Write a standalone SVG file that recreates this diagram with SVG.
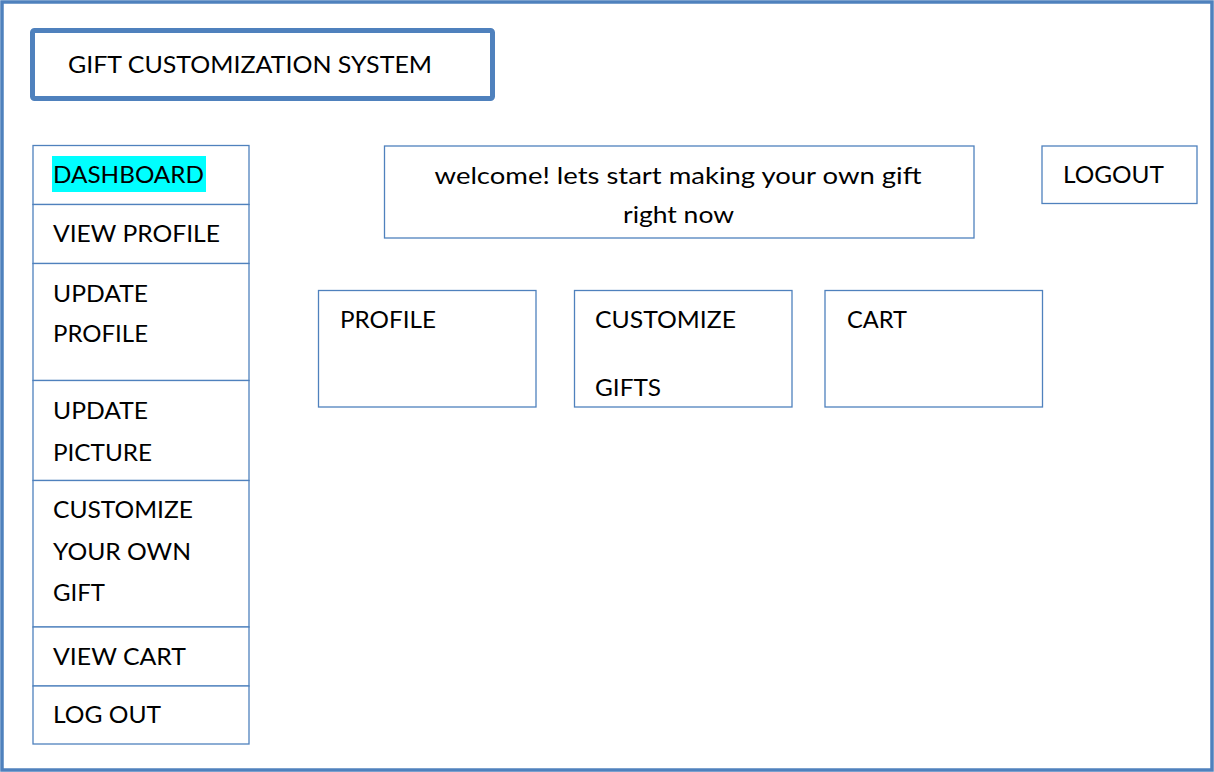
<svg xmlns="http://www.w3.org/2000/svg" width="1214" height="772" viewBox="0 0 1214 772">
<style>
text{font-family:Lato,"Open Sans","Liberation Sans",sans-serif;font-size:24px;fill:#000}
.cell{fill:#fff;stroke:#4f81bd;stroke-width:1.3}
</style>
<rect x="0" y="0" width="1214" height="772" fill="#fff"/>
<rect id="frame" x="2" y="2" width="1210" height="768" fill="none" stroke="#4f81bd" stroke-width="3.5"/>
<g id="title">
<rect x="32.5" y="30.5" width="460" height="68" rx="2" fill="#fff" stroke="#4f81bd" stroke-width="5"/>
<text x="68" y="73" textLength="364" lengthAdjust="spacingAndGlyphs">GIFT CUSTOMIZATION SYSTEM</text>
</g>
<g id="menu-dashboard">
<rect class="cell" x="33" y="145.5" width="216" height="59"/>
<rect x="52" y="156" width="154" height="36" fill="#00ffff"/>
<text x="53" y="183" textLength="151" lengthAdjust="spacingAndGlyphs">DASHBOARD</text>
</g>
<g id="menu-view-profile">
<rect class="cell" x="33" y="204.5" width="216" height="59"/>
<text x="53" y="242" textLength="167" lengthAdjust="spacingAndGlyphs">VIEW PROFILE</text>
</g>
<g id="menu-update-profile">
<rect class="cell" x="33" y="263.5" width="216" height="117"/>
<text x="53" y="302" textLength="95" lengthAdjust="spacingAndGlyphs">UPDATE</text>
<text x="53" y="342" textLength="95" lengthAdjust="spacingAndGlyphs">PROFILE</text>
</g>
<g id="menu-update-picture">
<rect class="cell" x="33" y="380.5" width="216" height="100"/>
<text x="53" y="419" textLength="95" lengthAdjust="spacingAndGlyphs">UPDATE</text>
<text x="53" y="461" textLength="99" lengthAdjust="spacingAndGlyphs">PICTURE</text>
</g>
<g id="menu-customize">
<rect class="cell" x="33" y="480.5" width="216" height="146.5"/>
<text x="53" y="518" textLength="140" lengthAdjust="spacingAndGlyphs">CUSTOMIZE</text>
<text x="53" y="560" textLength="138" lengthAdjust="spacingAndGlyphs">YOUR OWN</text>
<text x="53" y="601" textLength="52" lengthAdjust="spacingAndGlyphs">GIFT</text>
</g>
<g id="menu-view-cart">
<rect class="cell" x="33" y="627" width="216" height="59"/>
<text x="53" y="665" textLength="133" lengthAdjust="spacingAndGlyphs">VIEW CART</text>
</g>
<g id="menu-logout">
<rect class="cell" x="33" y="686" width="216" height="58"/>
<text x="53" y="723" textLength="108" lengthAdjust="spacingAndGlyphs">LOG OUT</text>
</g>
<g id="welcome">
<rect class="cell" x="384.5" y="146" width="589.5" height="92"/>
<text x="434.5" y="184" textLength="487" lengthAdjust="spacingAndGlyphs">welcome! lets start making your own gift</text>
<text x="623" y="223" textLength="111" lengthAdjust="spacingAndGlyphs">right now</text>
</g>
<g id="logout">
<rect class="cell" x="1042" y="146" width="155" height="57.5"/>
<text x="1063" y="183" textLength="101" lengthAdjust="spacingAndGlyphs">LOGOUT</text>
</g>
<g id="profile">
<rect class="cell" x="318.5" y="290.5" width="217.5" height="116.5"/>
<text x="340" y="328" textLength="96" lengthAdjust="spacingAndGlyphs">PROFILE</text>
</g>
<g id="customize-gifts">
<rect class="cell" x="574.5" y="290.5" width="217.5" height="116.5"/>
<text x="595" y="328" textLength="141" lengthAdjust="spacingAndGlyphs">CUSTOMIZE</text>
<text x="595" y="396" textLength="66" lengthAdjust="spacingAndGlyphs">GIFTS</text>
</g>
<g id="cart">
<rect class="cell" x="825" y="290.5" width="217.5" height="116.5"/>
<text x="847" y="328" textLength="60" lengthAdjust="spacingAndGlyphs">CART</text>
</g>
<g id="connectors"></g>
</svg>
